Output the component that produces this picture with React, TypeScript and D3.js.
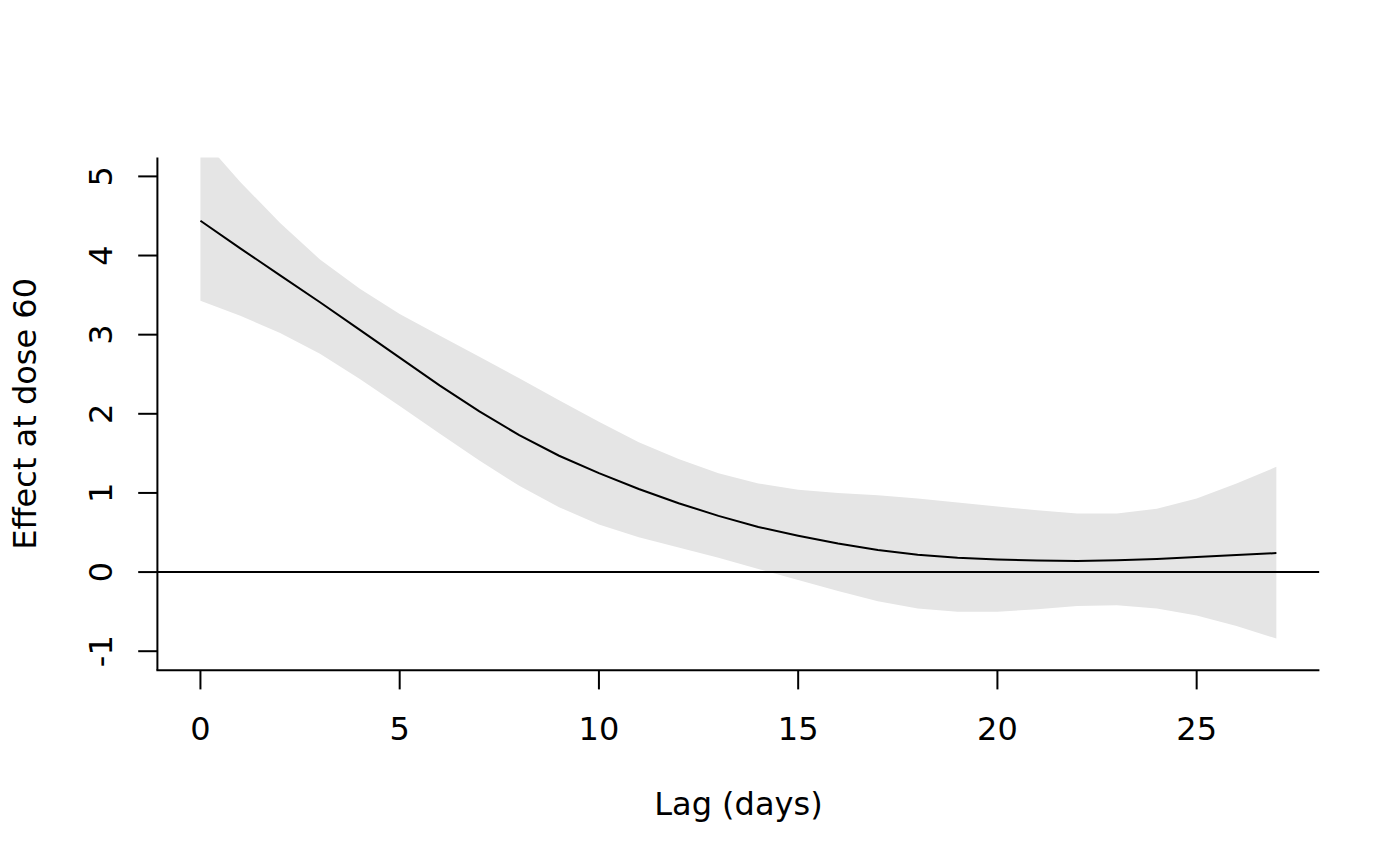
import React from "react";
import * as d3 from "d3";

const lags = [0,1,2,3,4,5,6,7,8,9,10,11,12,13,14,15,16,17,18,19,20,21,22,23,24,25,26,27];
const fit = [4.44,4.09,3.75,3.41,3.06,2.71,2.36,2.03,1.73,1.47,1.25,1.05,0.87,0.71,0.57,0.46,0.36,0.28,0.22,0.18,0.16,0.145,0.14,0.15,0.165,0.19,0.215,0.24];
const upper = [5.5,4.93,4.41,3.95,3.58,3.26,2.99,2.72,2.45,2.17,1.9,1.64,1.43,1.25,1.12,1.04,1.0,0.97,0.93,0.88,0.83,0.78,0.74,0.74,0.8,0.93,1.12,1.33];
const lower = [3.43,3.24,3.02,2.76,2.44,2.1,1.75,1.41,1.09,0.82,0.6,0.44,0.31,0.18,0.04,-0.1,-0.24,-0.37,-0.46,-0.5,-0.5,-0.47,-0.43,-0.42,-0.46,-0.55,-0.68,-0.84];
const xTicks = [0,5,10,15,20,25];
const yTicks = [-1,0,1,2,3,4,5];
const xLabel = "Lag (days)";
const yLabel = "Effect at dose 60";

export default function App() {
  const W = 1400, H = 866;
  const L = 157.4, R = 1319.4, T = 157.4, B = 670.2;
  const xr = 27 - 0;
  const x = d3.scaleLinear().domain([0 - 0.04 * xr, 27 + 0.04 * xr]).range([L, R]);
  const yr = 5 - -1;
  const y = d3.scaleLinear().domain([-1 - 0.04 * yr, 5 + 0.04 * yr]).range([B, T]);
  const rows = lags.map((l, i) => ({ l, f: fit[i], u: upper[i], lo: lower[i] }));
  const area = d3.area<any>().x(d => x(d.l)).y0(d => y(d.lo)).y1(d => y(d.u));
  const line = d3.line<any>().x(d => x(d.l)).y(d => y(d.f));
  const font = "'DejaVu Sans', sans-serif";
  const lw = 2;
  return (
    <svg width={W} height={H} style={{ position: "absolute", left: 0, top: 0, background: "#fff" }}
      fontFamily={font} fontSize={32}>
      <defs>
        <clipPath id="plotclip">
          <rect x={L} y={T} width={R - L} height={B - T} />
        </clipPath>
      </defs>
      <g clipPath="url(#plotclip)">
        <path d={area(rows) || ""} fill="#e5e5e5" stroke="none" />
        <path d={line(rows) || ""} fill="none" stroke="#000" strokeWidth={lw} />
        <line x1={L} x2={R} y1={y(0)} y2={y(0)} stroke="#000" strokeWidth={lw} />
      </g>
      <line x1={L} x2={L} y1={T} y2={B} stroke="#000" strokeWidth={lw} />
      <line x1={L - 1} x2={R} y1={B} y2={B} stroke="#000" strokeWidth={lw} />
      {xTicks.map(t => (
        <g key={"x" + t}>
          <line x1={x(t)} x2={x(t)} y1={B} y2={B + 19.2} stroke="#000" strokeWidth={lw} />
          <text x={x(t)} y={740} textAnchor="middle">{t}</text>
        </g>
      ))}
      {yTicks.map(t => (
        <g key={"y" + t}>
          <line x1={L} x2={L - 19.2} y1={y(t)} y2={y(t)} stroke="#000" strokeWidth={lw} />
          <text transform={`translate(112,${y(t)}) rotate(-90)`} textAnchor="middle">{t}</text>
        </g>
      ))}
      <text x={(L + R) / 2} y={815} textAnchor="middle">{xLabel}</text>
      <text transform={`translate(36,${(T + B) / 2}) rotate(-90)`} textAnchor="middle">{yLabel}</text>
    </svg>
  );
}
